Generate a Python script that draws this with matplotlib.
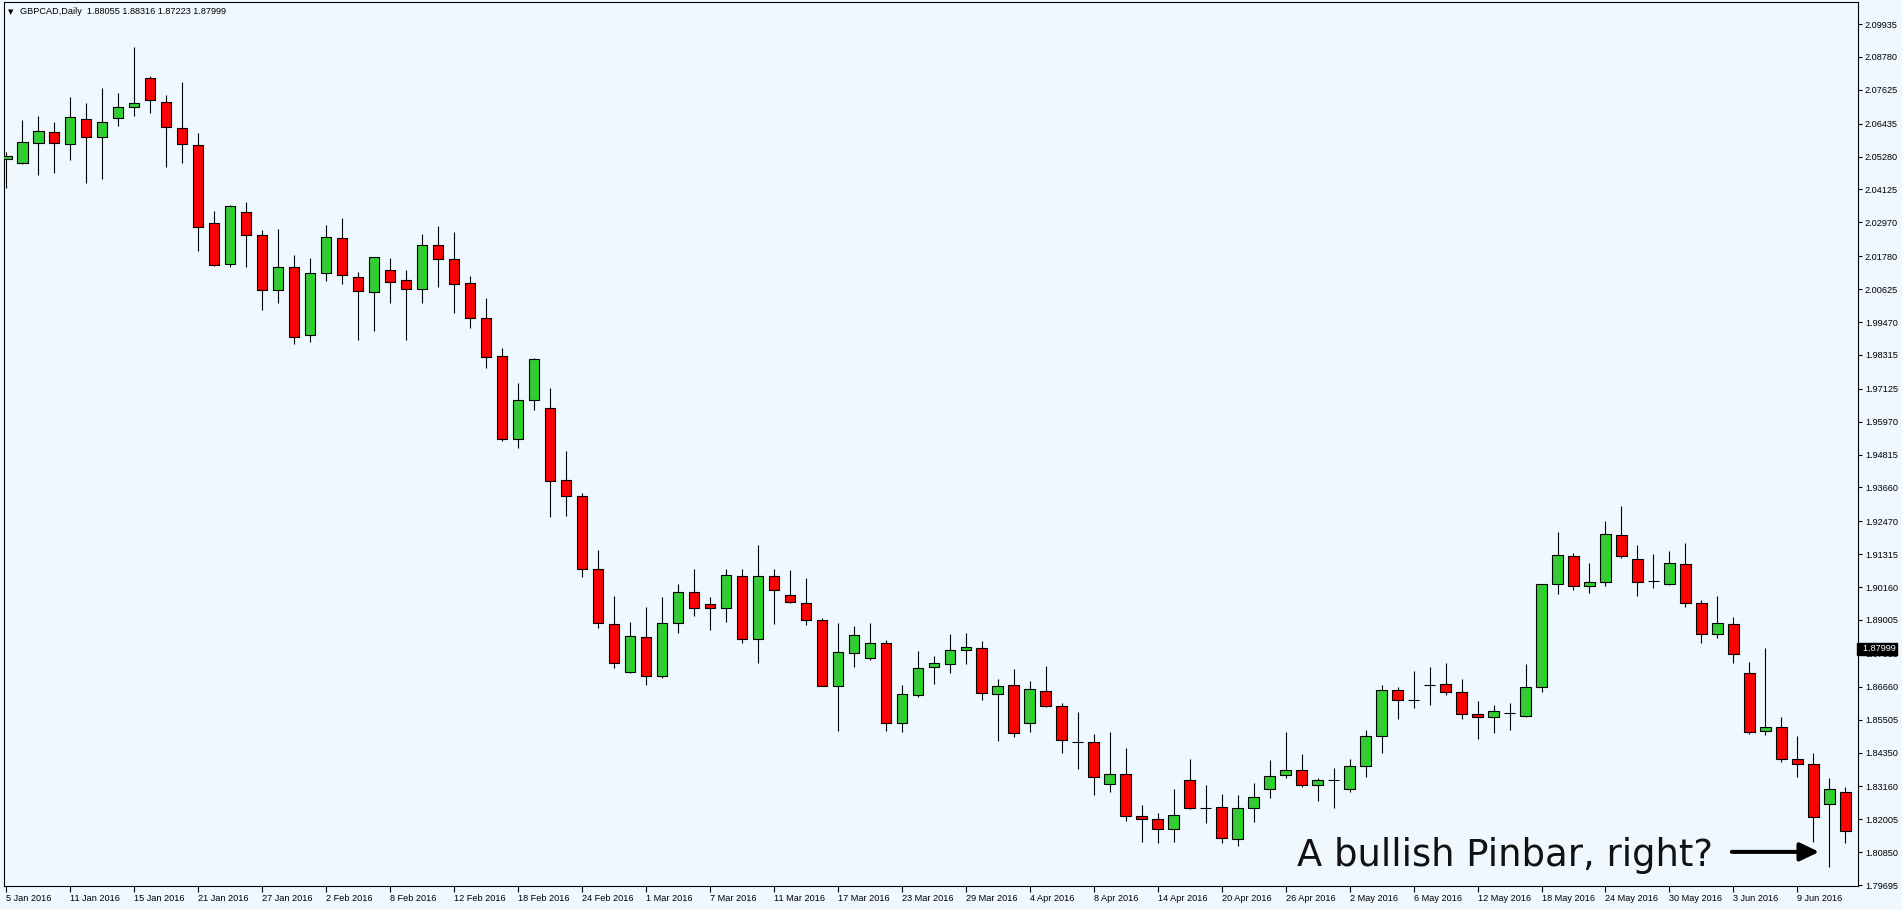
import numpy as np
import matplotlib
matplotlib.use("Agg")
import matplotlib.pyplot as plt
import matplotlib.transforms as mtransforms

# GBPCAD daily candles, 5 Jan 2016 .. 14 Jun 2016
opens = [2.0519, 2.0505, 2.0576, 2.0614, 2.0572, 2.0660, 2.0597, 2.0663, 2.0702, 2.0804,
         2.0720, 2.0628, 2.0569, 2.0295, 2.0151, 2.0333, 2.0252, 2.0059, 2.0140, 1.9901,
         2.0119, 2.0242, 2.0105, 2.0052, 2.0130, 2.0094, 2.0063, 2.0217, 2.0168, 2.0084,
         1.9961, 1.9828, 1.9536, 1.9673, 1.9645, 1.9392, 1.9336, 1.9079, 1.8886, 1.8718,
         1.8841, 1.8704, 1.8890, 1.8999, 1.8957, 1.8943, 1.9055, 1.8834, 1.9055, 1.8988,
         1.8960, 1.8900, 1.8669, 1.8784, 1.8767, 1.8820, 1.8539, 1.8637, 1.8735, 1.8746,
         1.8795, 1.8802, 1.8640, 1.8672, 1.8539, 1.8651, 1.8598, 1.8473, 1.8472, 1.8324,
         1.8360, 1.8212, 1.8201, 1.8166, 1.8338, 1.8240, 1.8244, 1.8131, 1.8240, 1.8307,
         1.8356, 1.8374, 1.8321, 1.8338, 1.8307, 1.8388, 1.8493, 1.8655, 1.8619, 1.8672,
         1.8676, 1.8647, 1.8570, 1.8560, 1.8574, 1.8563, 1.8665, 1.9027, 1.9125, 1.9020,
         1.9034, 1.9199, 1.9115, 1.9037, 1.9027, 1.9097, 1.8960, 1.8851, 1.8886, 1.8714,
         1.8511, 1.8525, 1.8412, 1.8395, 1.8254, 1.8296]
highs = [2.0544, 2.0656, 2.0670, 2.0649, 2.0737, 2.0716, 2.0769, 2.0751, 2.0913, 2.0811,
         2.0744, 2.0790, 2.0611, 2.0337, 2.0358, 2.0368, 2.0270, 2.0274, 2.0182, 2.0172,
         2.0288, 2.0312, 2.0123, 2.0175, 2.0172, 2.0130, 2.0256, 2.0284, 2.0263, 2.0109,
         2.0031, 1.9856, 1.9733, 1.9821, 1.9715, 1.9494, 1.9346, 1.9146, 1.8985, 1.8893,
         1.8946, 1.8981, 1.9027, 1.9079, 1.8981, 1.9079, 1.9079, 1.9164, 1.9079, 1.9076,
         1.9048, 1.8907, 1.8890, 1.8879, 1.8890, 1.8830, 1.8672, 1.8791, 1.8774, 1.8851,
         1.8855, 1.8827, 1.8693, 1.8728, 1.8686, 1.8739, 1.8609, 1.8577, 1.8500, 1.8507,
         1.8451, 1.8251, 1.8223, 1.8307, 1.8412, 1.8321, 1.8289, 1.8286, 1.8328, 1.8409,
         1.8507, 1.8430, 1.8345, 1.8381, 1.8412, 1.8514, 1.8672, 1.8665, 1.8721, 1.8735,
         1.8749, 1.8693, 1.8616, 1.8602, 1.8609, 1.8746, 1.9027, 1.9209, 1.9136, 1.9101,
         1.9248, 1.9301, 1.9164, 1.9132, 1.9143, 1.9171, 1.8971, 1.8985, 1.8911, 1.8753,
         1.8802, 1.8560, 1.8493, 1.8433, 1.8345, 1.8314]
lows = [2.0418, 2.0503, 2.0463, 2.0470, 2.0516, 2.0435, 2.0449, 2.0635, 2.0670, 2.0681,
        2.0491, 2.0505, 2.0196, 2.0144, 2.0140, 2.0140, 1.9989, 2.0014, 1.9870, 1.9877,
        2.0091, 2.0080, 1.9884, 1.9915, 2.0014, 1.9884, 2.0014, 2.0070, 1.9979, 1.9926,
        1.9785, 1.9529, 1.9504, 1.9638, 1.9262, 1.9266, 1.9051, 1.8872, 1.8732, 1.8714,
        1.8672, 1.8697, 1.8855, 1.8914, 1.8865, 1.8893, 1.8820, 1.8749, 1.8886, 1.8960,
        1.8883, 1.8667, 1.8511, 1.8735, 1.8760, 1.8511, 1.8507, 1.8630, 1.8676, 1.8714,
        1.8746, 1.8619, 1.8475, 1.8489, 1.8507, 1.8595, 1.8433, 1.8377, 1.8286, 1.8296,
        1.8194, 1.8121, 1.8117, 1.8121, 1.8238, 1.8187, 1.8117, 1.8107, 1.8191, 1.8275,
        1.8345, 1.8314, 1.8265, 1.8240, 1.8296, 1.8349, 1.8433, 1.8553, 1.8591, 1.8602,
        1.8637, 1.8553, 1.8482, 1.8503, 1.8514, 1.8560, 1.8647, 1.8992, 1.9006, 1.8995,
        1.9020, 1.9118, 1.8985, 1.9013, 1.9023, 1.8946, 1.8820, 1.8837, 1.8749, 1.8500,
        1.8496, 1.8402, 1.8349, 1.8121, 1.8033, 1.8117]
closes = [2.0530, 2.0579, 2.0618, 2.0576, 2.0667, 2.0597, 2.0649, 2.0702, 2.0716, 2.0727,
          2.0632, 2.0572, 2.0281, 2.0147, 2.0354, 2.0252, 2.0059, 2.0140, 1.9894, 2.0119,
          2.0245, 2.0112, 2.0056, 2.0175, 2.0087, 2.0063, 2.0217, 2.0168, 2.0080, 1.9961,
          1.9824, 1.9536, 1.9673, 1.9817, 1.9389, 1.9336, 1.9079, 1.8890, 1.8749, 1.8844,
          1.8704, 1.8890, 1.8999, 1.8943, 1.8943, 1.9058, 1.8834, 1.9055, 1.9006, 1.8964,
          1.8900, 1.8669, 1.8788, 1.8848, 1.8820, 1.8539, 1.8640, 1.8732, 1.8749, 1.8795,
          1.8806, 1.8644, 1.8669, 1.8503, 1.8658, 1.8598, 1.8479, 1.8472, 1.8349, 1.8360,
          1.8212, 1.8201, 1.8166, 1.8216, 1.8240, 1.8239, 1.8135, 1.8240, 1.8279, 1.8352,
          1.8374, 1.8321, 1.8338, 1.8337, 1.8388, 1.8493, 1.8655, 1.8619, 1.8618, 1.8671,
          1.8647, 1.8570, 1.8560, 1.8581, 1.8573, 1.8665, 1.9027, 1.9129, 1.9020, 1.9034,
          1.9202, 1.9125, 1.9034, 1.9036, 1.9101, 1.8960, 1.8851, 1.8890, 1.8781, 1.8507,
          1.8525, 1.8412, 1.8395, 1.8208, 1.8307, 1.8159]

date_labels = ['5 Jan 2016', '11 Jan 2016', '15 Jan 2016', '21 Jan 2016', '27 Jan 2016',
               '2 Feb 2016', '8 Feb 2016', '12 Feb 2016', '18 Feb 2016', '24 Feb 2016',
               '1 Mar 2016', '7 Mar 2016', '11 Mar 2016', '17 Mar 2016', '23 Mar 2016',
               '29 Mar 2016', '4 Apr 2016', '8 Apr 2016', '14 Apr 2016', '20 Apr 2016',
               '26 Apr 2016', '2 May 2016', '6 May 2016', '12 May 2016', '18 May 2016',
               '24 May 2016', '30 May 2016', '3 Jun 2016', '9 Jun 2016']
price_ticks = [2.09935, 2.08780, 2.07625, 2.06435, 2.05280, 2.04125, 2.02970, 2.01780,
               2.00625, 1.99470, 1.98315, 1.97125, 1.95970, 1.94815, 1.93660, 1.92470,
               1.91315, 1.90160, 1.89005, 1.87815, 1.86660, 1.85505, 1.84350, 1.83160,
               1.82005, 1.80850, 1.79695]
last_price = 1.87999
header = 'GBPCAD,Daily  1.88055 1.88316 1.87223 1.87999'

bg = '#F0F8FF'
up_col = '#32CD32'
down_col = '#FF0000'
W, H = 1902, 910

fig = plt.figure(figsize=(W / 100, H / 100), dpi=100, facecolor=bg)
ax = fig.add_axes([4 / W, (H - 886) / H, (1858 - 4) / W, (886 - 2) / H])
ax.set_facecolor(bg)

o = np.array(opens)
h = np.array(highs)
l = np.array(lows)
c = np.array(closes)
x = np.arange(len(o))

doji = np.abs(c - o) < 0.00015
body_col = np.where(doji, 'black', np.where(c > o, up_col, down_col))
bottoms = np.minimum(o, c)
heights = np.maximum(np.abs(c - o), 0.00002)

# wicks then bodies
ax.vlines(x, l, h, color='black', linewidth=0.8, zorder=2)
ax.bar(x, heights, bottom=bottoms, width=0.66, color=body_col,
       edgecolor='black', linewidth=0.8, zorder=3)

ax.set_xlim(-0.14, 115.79)
ax.set_ylim(1.79662, 2.1071)

for s in ax.spines.values():
    s.set_color('black')
    s.set_linewidth(0.8)

lab_font = dict(family='Liberation Sans', size=6.6)

ax.yaxis.tick_right()
ax.set_yticks(price_ticks)
ax.set_yticklabels([f'{v:.5f}' for v in price_ticks], fontdict=lab_font)
ax.tick_params(axis='y', direction='out', length=3, width=0.8, pad=2, colors='black')

ax.set_xticks(x[::4])
ax.set_xticklabels(date_labels, fontdict=lab_font)
for t in ax.get_xticklabels():
    t.set_ha('left')
ax.tick_params(axis='x', direction='out', length=4, width=0.8, pad=2, colors='black')

# current price marker on the price axis
trans = mtransforms.blended_transform_factory(ax.transAxes, ax.transData)
ax.text(1.0, last_price, '  ' + f'{last_price:.5f}', transform=trans, ha='left', va='center',
        color='white', fontsize=6.6, family='Liberation Sans', zorder=10, clip_on=False,
        bbox=dict(boxstyle='square,pad=0.15', facecolor='black', edgecolor='black'))

# header line
fig.text(8 / W, 1 - 12 / H, '\u25BC', fontsize=5, family='DejaVu Sans', va='center', ha='left')
fig.text(20 / W, 1 - 12 / H, header, fontsize=6.6, family='Liberation Sans', va='center', ha='left')

# annotation
ax.text(80.73, 1.8036, 'A bullish Pinbar, right?', fontsize=26.6, family='DejaVu Sans',
        color='#111111', ha='left', va='baseline', zorder=5)
ax.annotate('', xy=(113.36, 1.8086), xytext=(107.9, 1.8086),
            arrowprops=dict(arrowstyle='-|>,head_length=1.15,head_width=0.55', lw=2.9,
                            color='black', shrinkA=0, shrinkB=0), zorder=5)

fig.savefig('out.png', dpi=100, facecolor=bg)
